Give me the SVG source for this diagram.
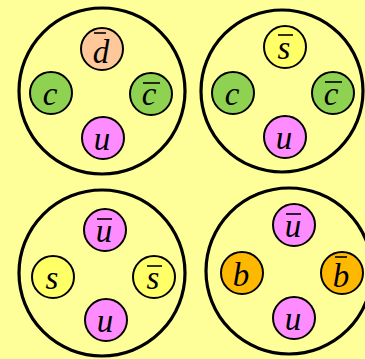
<svg xmlns="http://www.w3.org/2000/svg" width="365" height="359" viewBox="0 0 365 359">
<style>
.big{fill:none;stroke:#000;stroke-width:3.2}
.q{stroke:#000;stroke-width:2}
.d{fill:#ffc89a}.g{fill:#8fd150}.p{fill:#ff8cff}.y{fill:#ffff66}.o{fill:#ffb800}
text{font-family:"Liberation Serif","Times New Roman",serif;font-style:italic;font-size:33px;text-anchor:middle;fill:#000}
.bar{stroke:#000;stroke-width:1.6}
</style>
<rect width="365" height="359" fill="#ffff99"/>
<g id="hadron1">
<circle class="big" cx="102" cy="91" r="83"/>
<g id="h1-dbar"><circle class="q d" cx="102" cy="49" r="21"/><text x="101" y="63">d</text><line class="bar" x1="94" y1="33" x2="106" y2="33"/></g>
<g id="h1-c"><circle class="q g" cx="51" cy="93" r="21"/><text x="50" y="105">c</text></g>
<g id="h1-cbar"><circle class="q g" cx="151" cy="94" r="21"/><text x="149" y="105">c</text><line class="bar" x1="143" y1="83" x2="160" y2="83"/></g>
<g id="h1-u"><circle class="q p" cx="103" cy="138" r="21"/><text x="102" y="150">u</text></g>
</g>
<g id="hadron2">
<circle class="big" cx="282" cy="91" r="81"/>
<g id="h2-sbar"><circle class="q y" cx="285" cy="47" r="21"/><text x="284" y="59">s</text><line class="bar" x1="278" y1="35" x2="293" y2="35"/></g>
<g id="h2-c"><circle class="q g" cx="233" cy="93" r="21"/><text x="232" y="105">c</text></g>
<g id="h2-cbar"><circle class="q g" cx="333" cy="93" r="21"/><text x="331" y="105">c</text><line class="bar" x1="325" y1="82" x2="342" y2="82"/></g>
<g id="h2-u"><circle class="q p" cx="285" cy="137" r="21"/><text x="284" y="149">u</text></g>
</g>
<g id="hadron3">
<circle class="big" cx="102" cy="273" r="83"/>
<g id="h3-ubar"><circle class="q p" cx="105" cy="230" r="21"/><text x="104" y="242">u</text><line class="bar" x1="97" y1="219" x2="112" y2="219"/></g>
<g id="h3-s"><circle class="q y" cx="53" cy="277" r="21"/><text x="52" y="289">s</text></g>
<g id="h3-sbar"><circle class="q y" cx="154" cy="277" r="21"/><text x="153" y="289">s</text><line class="bar" x1="147" y1="266" x2="162" y2="266"/></g>
<g id="h3-u"><circle class="q p" cx="106" cy="320" r="21"/><text x="105" y="332">u</text></g>
</g>
<g id="hadron4">
<circle class="big" cx="289" cy="271" r="83"/>
<g id="h4-ubar"><circle class="q p" cx="294" cy="225" r="21"/><text x="293" y="237">u</text><line class="bar" x1="286" y1="214" x2="301" y2="214"/></g>
<g id="h4-b"><circle class="q o" cx="242" cy="273" r="21"/><text x="241" y="286">b</text></g>
<g id="h4-bbar"><circle class="q o" cx="342" cy="273" r="21"/><text x="341" y="287">b</text><line class="bar" x1="335" y1="257" x2="347" y2="257"/></g>
<g id="h4-u"><circle class="q p" cx="294" cy="318" r="21"/><text x="293" y="330">u</text></g>
</g>
</svg>
